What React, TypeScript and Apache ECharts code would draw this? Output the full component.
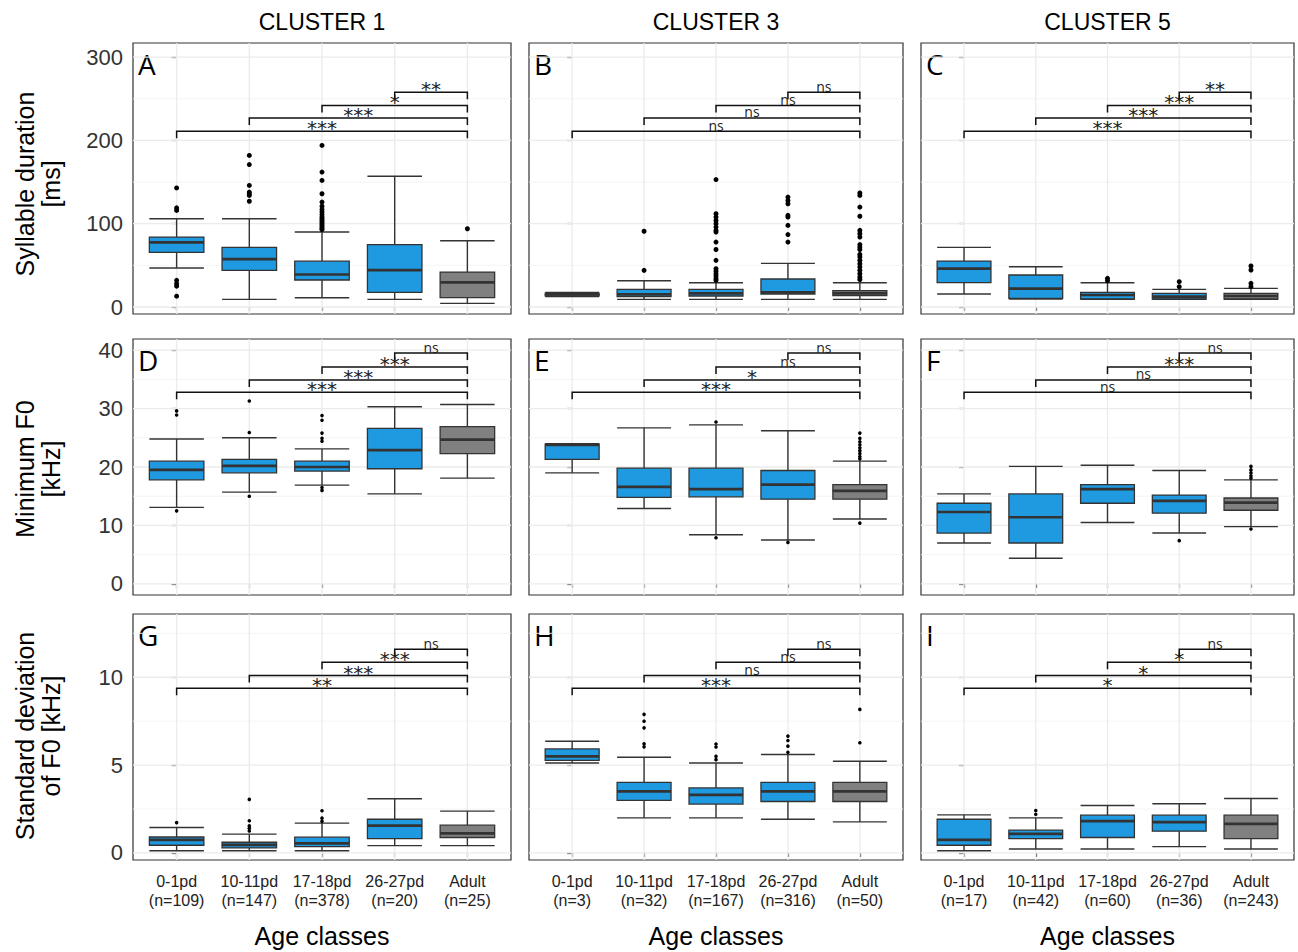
import React, { useEffect, useRef } from "react";
import * as echarts from "echarts";

// ---------- texts ----------
const clusterNames = ["CLUSTER 1", "CLUSTER 3", "CLUSTER 5"];
const ageClasses = ["0-1pd", "10-11pd", "17-18pd", "26-27pd", "Adult"];
const nCluster1 = [109, 147, 378, 20, 25];
const nCluster3 = [3, 32, 167, 316, 50];
const nCluster5 = [17, 42, 60, 36, 243];
const rowTitles = ["Syllable duration\n[ms]", "Minimum F0\n[kHz]", "Standard deviation\nof F0 [kHz]"];
const panelLetters = ["A", "B", "C", "D", "E", "F", "G", "H", "I"];
const xTitle = "Age classes";

// ---------- y axes ----------
const yMin = [-8.4, -1.9, -0.4];
const yMax = [317, 41.9, 13.6];
const yTicks = [[0, 100, 200, 300], [0, 10, 20, 30, 40], [0, 5, 10]];
const yMinor = [[50, 150, 250], [5, 15, 25, 35], [2.5, 7.5, 12.5]];

// ---------- box statistics: [lower whisker, Q1, median, Q3, upper whisker] ----------
const boxA = [[46.8, 65.6, 77.6, 84.0, 106], [9.2, 44.0, 57.6, 71.6, 106], [11.2, 32.4, 39.0, 55.0, 90], [9.2, 17.6, 44.4, 74.8, 157], [4.4, 11.2, 29.6, 42.0, 79.6]];
const outA = [[143, 119, 116, 32, 28, 25, 13], [182, 171, 146, 138, 136, 134, 127], [194, 162, 152, 136, 126, 121, 117, 114, 111, 108, 106, 104, 102, 100, 98, 96, 94, 93], [], [94]];
const boxB = [[12.6, 13.4, 15.0, 16.4, 17.4], [9.2, 12.4, 15.2, 21.2, 31.6], [9.2, 13.2, 16.4, 21.2, 29.2], [9.2, 15.6, 17.6, 33.6, 52.4], [9.2, 13.6, 16.4, 19.6, 29.2]];
const outB = [[], [91, 44], [153, 112, 108, 104, 100, 96, 92, 90, 78, 69, 56, 46, 43, 40, 37, 34, 32], [132, 128, 124, 110, 108, 98, 87, 78], [137, 134, 120, 109, 92, 88, 84, 75, 72, 69, 63, 60, 56, 52, 48, 44, 40, 36, 33]];
const boxC = [[15.6, 29.2, 46.0, 55.2, 71.6], [9.5, 10.4, 22.0, 38.4, 48.4], [9.2, 9.6, 14.4, 17.6, 29.2], [9.2, 9.6, 12.4, 16.4, 21.2], [9.2, 9.6, 13.2, 16.4, 22.4]];
const outC = [[], [], [34.4, 31.6], [30.4, 24.4], [49.2, 44.4, 28.4, 24.4]];
const boxD = [[13.1, 17.8, 19.5, 21.0, 24.8], [15.7, 19.0, 20.2, 21.3, 25.0], [16.9, 19.3, 20.0, 21.0, 23.1], [15.4, 19.7, 22.9, 26.6, 30.3], [18.1, 22.3, 24.7, 26.9, 30.7]];
const outD = [[29.6, 28.9, 12.5], [31.3, 25.9, 15.0], [28.8, 28.0, 25.8, 24.9, 24.4, 16.5, 16.0], [], []];
const boxE = [[19.0, 21.3, 23.8, 23.9, 24.0], [12.9, 14.8, 16.6, 19.8, 26.7], [8.4, 14.9, 16.2, 19.8, 27.2], [7.5, 14.5, 17.0, 19.4, 26.2], [11.1, 14.5, 15.9, 17.0, 21.0]];
const outE = [[], [], [27.7, 7.9], [7.1], [25.8, 24.9, 24.3, 23.8, 23.3, 22.8, 22.3, 21.8, 21.4, 10.4]];
const boxF = [[7.0, 8.7, 12.3, 13.8, 15.4], [4.4, 7.0, 11.4, 15.4, 20.1], [10.5, 13.8, 16.2, 17.0, 20.3], [8.7, 12.1, 14.2, 15.2, 19.4], [9.8, 12.6, 13.9, 14.7, 17.8]];
const outF = [[], [], [], [7.4], [20.1, 19.5, 19.0, 18.5, 18.1, 9.4]];
const boxG = [[0.13, 0.44, 0.74, 0.91, 1.45], [0.13, 0.29, 0.46, 0.61, 1.07], [0.13, 0.36, 0.55, 0.9, 1.7], [0.42, 0.82, 1.56, 1.92, 3.09], [0.42, 0.88, 1.12, 1.58, 2.38]];
const outG = [[1.73], [3.05, 1.83, 1.54, 1.4, 1.25], [2.4, 1.98, 1.8], [], []];
const boxH = [[5.12, 5.27, 5.5, 5.92, 6.36], [2.0, 2.99, 3.5, 4.02, 5.45], [2.0, 2.78, 3.31, 3.7, 5.12], [1.92, 2.93, 3.5, 4.02, 5.6], [1.77, 2.93, 3.5, 4.02, 5.22]];
const outH = [[], [7.89, 7.5, 7.12, 6.21, 6.04], [6.2, 6.03, 5.5, 5.31], [6.65, 6.4, 6.08, 5.73], [8.17, 6.27]];
const boxI = [[0.13, 0.44, 0.74, 1.92, 2.17], [0.23, 0.82, 1.09, 1.3, 2.0], [0.23, 0.88, 1.81, 2.15, 2.7], [0.36, 1.24, 1.75, 2.15, 2.8], [0.23, 0.82, 1.66, 2.15, 3.1]];
const outI = [[], [2.42, 2.2], [], [], []];

// ---------- significance brackets (each class vs Adult), heights per row ----------
const bracketFrom = [0, 1, 2, 3];
const bracketHeights = [[211, 227, 242, 258], [32.8, 34.9, 37.1, 39.5], [9.37, 10.1, 10.86, 11.6]];
const sigA = ["***", "***", "*", "**"];
const sigB = ["ns", "ns", "ns", "ns"];
const sigC = ["***", "***", "***", "**"];
const sigD = ["***", "***", "***", "ns"];
const sigE = ["***", "*", "ns", "ns"];
const sigF = ["ns", "ns", "***", "ns"];
const sigG = ["**", "***", "***", "ns"];
const sigH = ["***", "ns", "ns", "ns"];
const sigI = ["*", "*", "*", "ns"];

const panelBoxes = [boxA, boxB, boxC, boxD, boxE, boxF, boxG, boxH, boxI];
const panelOut = [outA, outB, outC, outD, outE, outF, outG, outH, outI];
const panelSig = [sigA, sigB, sigC, sigD, sigE, sigF, sigG, sigH, sigI];
const nPerCluster = [nCluster1, nCluster3, nCluster5];

// ---------- layout / style ----------
const colLeft = [133, 529, 921];
const colWidth = [378, 374, 373];
const rowTop = [43, 339, 614];
const rowHeight = [271, 256, 246];
const BLUE = "#1f9ae0";
const GRAY = "#808080";
const DARK = "#333333";
const FONT = "Liberation Sans, Arial, sans-serif";
const SIGFONT = "Open Sans, Noto Sans, sans-serif";

function buildOption(): any {
  const grid: any[] = [];
  const xAxis: any[] = [];
  const yAxis: any[] = [];
  const series: any[] = [];
  const graphic: any[] = [];

  for (let r = 0; r < 3; r++) {
    for (let c = 0; c < 3; c++) {
      const idx = r * 3 + c;
      grid.push({
        left: colLeft[c], top: rowTop[r], width: colWidth[c], height: rowHeight[r],
        show: true, borderColor: DARK, borderWidth: 1.2, backgroundColor: "#fff",
      });
      const ns = nPerCluster[c];
      xAxis.push({
        gridIndex: idx, type: "value", min: -0.6, max: 4.6,
        splitLine: { show: false }, axisLine: { show: false },
        axisTick: { show: true, customValues: [0, 1, 2, 3, 4], length: 4, lineStyle: { color: DARK, width: 1.2 } },
        axisLabel: r === 2
          ? {
              show: true, customValues: [0, 1, 2, 3, 4], margin: 12,
              formatter: (v: number) => `${ageClasses[Math.round(v)]}\n(n=${ns[Math.round(v)]})`,
              fontSize: 16, lineHeight: 19, color: "#222", fontFamily: FONT,
            }
          : { show: false },
      });
      yAxis.push({
        gridIndex: idx, type: "value", min: yMin[r], max: yMax[r],
        splitLine: { show: false }, axisLine: { show: false },
        axisTick: { show: true, customValues: yTicks[r], length: 5, lineStyle: { color: DARK, width: 1.2 } },
        axisLabel: c === 0
          ? { show: true, customValues: yTicks[r], fontSize: 22, color: "#333", fontFamily: FONT, margin: 10 }
          : { show: false },
      });

      // grid lines
      const gl: number[][] = [];
      yMinor[r].forEach((v) => gl.push([0, v, 0]));
      yTicks[r].forEach((v) => gl.push([0, v, 1]));
      [0, 1, 2, 3, 4].forEach((v) => gl.push([1, v, 1]));
      series.push({
        type: "custom", xAxisIndex: idx, yAxisIndex: idx, z: 1, silent: true,
        encode: { x: 0, y: 1 },
        data: gl,
        renderItem: (params: any, api: any) => {
          const cs = params.coordSys;
          const kind = api.value(0);
          const v = api.value(1);
          const major = api.value(2) === 1;
          const style = { stroke: major ? "#EBEBEB" : "#F3F3F3", lineWidth: major ? 1.3 : 0.9 };
          if (kind === 0) {
            const p = api.coord([0, v]);
            return { type: "line", shape: { x1: cs.x, y1: p[1], x2: cs.x + cs.width, y2: p[1] }, style };
          }
          const p = api.coord([v, 0]);
          return { type: "line", shape: { x1: p[0], y1: cs.y, x2: p[0], y2: cs.y + cs.height }, style };
        },
      });

      // boxes
      const boxes = panelBoxes[idx];
      series.push({
        type: "custom", xAxisIndex: idx, yAxisIndex: idx, z: 3, silent: true,
        encode: { x: 0, y: [1, 2, 3, 4, 5] },
        data: boxes.map((b, i) => [i, b[0], b[1], b[2], b[3], b[4]]),
        renderItem: (_params: any, api: any) => {
          const i = api.value(0);
          const lo = api.coord([i, api.value(1)]);
          const q1 = api.coord([i, api.value(2)]);
          const md = api.coord([i, api.value(3)]);
          const q3 = api.coord([i, api.value(4)]);
          const hi = api.coord([i, api.value(5)]);
          const w = api.size([0.75, 0])[0];
          const cx = lo[0];
          const x0 = cx - w / 2;
          const ls = { stroke: DARK, lineWidth: 1.4 };
          return {
            type: "group",
            children: [
              { type: "line", shape: { x1: cx, y1: hi[1], x2: cx, y2: q3[1] }, style: ls },
              { type: "line", shape: { x1: cx, y1: q1[1], x2: cx, y2: lo[1] }, style: ls },
              { type: "line", shape: { x1: x0, y1: hi[1], x2: x0 + w, y2: hi[1] }, style: ls },
              { type: "line", shape: { x1: x0, y1: lo[1], x2: x0 + w, y2: lo[1] }, style: ls },
              { type: "rect", shape: { x: x0, y: q3[1], width: w, height: q1[1] - q3[1] }, style: { fill: i === 4 ? GRAY : BLUE, stroke: DARK, lineWidth: 1.3 } },
              { type: "line", shape: { x1: x0, y1: md[1], x2: x0 + w, y2: md[1] }, style: { stroke: DARK, lineWidth: 2.7 } },
            ],
          };
        },
      });

      // outliers
      const pts: number[][] = [];
      panelOut[idx].forEach((arr, i) => arr.forEach((v) => pts.push([i, v])));
      series.push({
        type: "scatter", xAxisIndex: idx, yAxisIndex: idx, z: 4, silent: true,
        symbolSize: r === 0 ? 5 : 3.6, itemStyle: { color: "#000", opacity: 1 },
        data: pts,
      });

      // brackets
      const labels = panelSig[idx];
      series.push({
        type: "custom", xAxisIndex: idx, yAxisIndex: idx, z: 5, silent: true,
        encode: { x: [0, 1], y: 2 },
        data: bracketFrom.map((f, k) => [f, 4, bracketHeights[r][k]]),
        renderItem: (params: any, api: any) => {
          const a = api.coord([api.value(0), api.value(2)]);
          const b = api.coord([api.value(1), api.value(2)]);
          const leg = 7;
          const label = labels[params.dataIndex];
          const star = label.indexOf("*") >= 0;
          return {
            type: "group",
            children: [
              {
                type: "polyline",
                shape: { points: [[a[0], a[1] + leg], [a[0], a[1]], [b[0], b[1]], [b[0], b[1] + leg]] },
                style: { stroke: "#111", lineWidth: 1.5, fill: null },
              },
              {
                type: "text", x: (a[0] + b[0]) / 2, y: a[1] + (star ? -3 : -6),
                style: {
                  text: label,
                  align: "center", verticalAlign: "middle",
                  fontSize: star ? 20 : 14, fontFamily: star ? "DejaVu Sans, sans-serif" : SIGFONT,
                  fill: "#222",
                },
              },
            ],
          };
        },
      });

      // panel letter
      graphic.push({
        type: "text", x: colLeft[c] + 5, y: rowTop[r] + 21, silent: true,
        style: { text: panelLetters[idx], align: "left", textAlign: "left", verticalAlign: "middle", textVerticalAlign: "middle", fontSize: 28, fontFamily: SIGFONT, fill: "#000" },
      });
    }
  }

  // column headers + x titles
  for (let c = 0; c < 3; c++) {
    const cx = colLeft[c] + colWidth[c] / 2;
    graphic.push({
      type: "text", x: cx, y: 22, silent: true,
      style: { text: clusterNames[c], align: "center", textAlign: "center", verticalAlign: "middle", textVerticalAlign: "middle", fontSize: 23, fontFamily: FONT, fill: "#000" },
    });
    graphic.push({
      type: "text", x: cx, y: 936, silent: true,
      style: { text: xTitle, align: "center", textAlign: "center", verticalAlign: "middle", textVerticalAlign: "middle", fontSize: 25, fontFamily: FONT, fill: "#000" },
    });
  }
  // row titles
  const rowTitleY = [184, 469, 736];
  for (let r = 0; r < 3; r++) {
    graphic.push({
      type: "text", x: 38, y: rowTitleY[r], rotation: Math.PI / 2, silent: true,
      style: { text: rowTitles[r], align: "center", textAlign: "center", verticalAlign: "middle", textVerticalAlign: "middle", fontSize: 25, lineHeight: 26, fontFamily: FONT, fill: "#000" },
    });
  }

  return { animation: false, backgroundColor: "#fff", grid, xAxis, yAxis, series, graphic };
}

export default function App() {
  const ref = useRef<HTMLDivElement>(null);
  useEffect(() => {
    const chart = echarts.init(ref.current as HTMLDivElement, null, { renderer: "svg" });
    chart.setOption(buildOption());
    return () => chart.dispose();
  }, []);
  return <div ref={ref} style={{ position: "absolute", left: 0, top: 0, width: 1298, height: 952, background: "#fff" }} />;
}
